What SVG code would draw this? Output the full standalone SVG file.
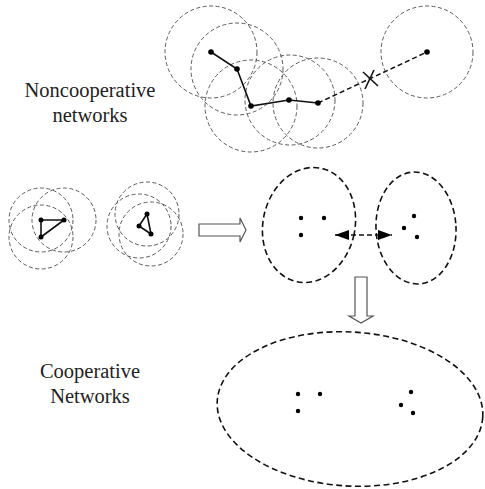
<svg xmlns="http://www.w3.org/2000/svg" width="485" height="489" viewBox="0 0 485 489">
<defs>
<style>
.rng{fill:none;stroke:#5a5a5a;stroke-width:1;stroke-dasharray:4 2.5}
.ell{fill:none;stroke:#111;stroke-width:1.6;stroke-dasharray:6 3.5}
.lnk{fill:none;stroke:#111;stroke-width:1.6}
.dlnk{fill:none;stroke:#111;stroke-width:1.5;stroke-dasharray:5 3}
.dot{fill:#000}
.hol{fill:#fff;stroke:#555;stroke-width:1.2}
.lbl{font-family:"Liberation Serif","Times New Roman",serif;font-size:20.5px;fill:#222;text-anchor:middle}
</style>
<marker id="ah" markerUnits="userSpaceOnUse" markerWidth="15" markerHeight="11" refX="14" refY="5" orient="auto-start-reverse">
<path d="M0,0 L14,5 L0,10 z" fill="#000"/>
</marker>
</defs>
<rect width="485" height="489" fill="#fff"/>

<g id="label-noncoop">
<text class="lbl" x="90" y="97">Noncooperative</text>
<text class="lbl" x="90" y="122">networks</text>
</g>
<g id="label-coop">
<text class="lbl" x="90" y="378">Cooperative</text>
<text class="lbl" x="90" y="403">Networks</text>
</g>

<g id="noncoop-ranges">
<circle class="rng" cx="211" cy="52" r="46"/>
<circle class="rng" cx="237" cy="69" r="46"/>
<circle class="rng" cx="251" cy="106" r="46"/>
<circle class="rng" cx="290" cy="100" r="45"/>
<circle class="rng" cx="318" cy="103" r="45"/>
<circle class="rng" cx="427" cy="52" r="46"/>
</g>

<g id="connectors">
<polyline class="lnk" points="211,52 237,69 251,106 289,100 318,103"/>
<line class="dlnk" x1="318" y1="103" x2="427" y2="52"/>
<line class="lnk" x1="363" y1="72" x2="378" y2="86" stroke-width="1.3"/>
<line class="lnk" x1="374" y1="70" x2="365" y2="89" stroke-width="1.3"/>
<polygon class="lnk" points="41,220 64,220 41,237" stroke-width="2" stroke-linejoin="round"/>
<polygon class="lnk" points="147,214 139,226 151,234" stroke-width="2" stroke-linejoin="round"/>
<line class="dlnk" x1="335" y1="235" x2="392" y2="235" marker-start="url(#ah)" marker-end="url(#ah)"/>
<polygon id="arrow-right" class="hol" points="199,224 240,224 240,218 246,230 240,242 240,236 199,236"/>
<polygon id="arrow-down" class="hol" points="355,277 367,277 367,316 373,316 361,323 349,316 355,316"/>
</g>

<g id="noncoop-nodes">
<circle class="dot" cx="211" cy="52" r="2.8"/>
<circle class="dot" cx="237" cy="69" r="2.8"/>
<circle class="dot" cx="251" cy="106" r="2.8"/>
<circle class="dot" cx="289" cy="100" r="2.8"/>
<circle class="dot" cx="318" cy="103" r="2.8"/>
<circle class="dot" cx="427" cy="52" r="2.8"/>
</g>

<g id="cluster-a">
<circle class="rng" cx="41" cy="220" r="32"/>
<circle class="rng" cx="64" cy="220" r="32"/>
<circle class="rng" cx="41" cy="237" r="32"/>
<circle class="dot" cx="41" cy="220" r="2.5"/>
<circle class="dot" cx="64" cy="220" r="2.5"/>
<circle class="dot" cx="41" cy="237" r="2.5"/>
</g>

<g id="cluster-b">
<circle class="rng" cx="147" cy="214" r="32"/>
<circle class="rng" cx="139" cy="226" r="32"/>
<circle class="rng" cx="151" cy="234" r="32"/>
<circle class="dot" cx="147" cy="214" r="2.5"/>
<circle class="dot" cx="139" cy="226" r="2.5"/>
<circle class="dot" cx="151" cy="234" r="2.5"/>
</g>

<g id="group-left">
<ellipse class="ell" cx="309" cy="225" rx="46" ry="58" transform="rotate(12 309 225)"/>
<circle class="dot" cx="301" cy="218" r="2.2"/>
<circle class="dot" cx="324" cy="218" r="2.2"/>
<circle class="dot" cx="301" cy="235" r="2.2"/>
</g>

<g id="group-right">
<ellipse class="ell" cx="416" cy="228" rx="40" ry="56" transform="rotate(-3 416 228)"/>
<circle class="dot" cx="414" cy="216" r="2.2"/>
<circle class="dot" cx="404" cy="228" r="2.2"/>
<circle class="dot" cx="417" cy="237" r="2.2"/>
</g>

<g id="group-merged">
<ellipse class="ell" cx="350" cy="409" rx="133" ry="77" transform="rotate(3.5 350 409)"/>
<circle class="dot" cx="298" cy="394" r="2.2"/>
<circle class="dot" cx="320" cy="394" r="2.2"/>
<circle class="dot" cx="298" cy="411" r="2.2"/>
<circle class="dot" cx="411" cy="392" r="2.2"/>
<circle class="dot" cx="401" cy="405" r="2.2"/>
<circle class="dot" cx="413" cy="413" r="2.2"/>
</g>
</svg>
